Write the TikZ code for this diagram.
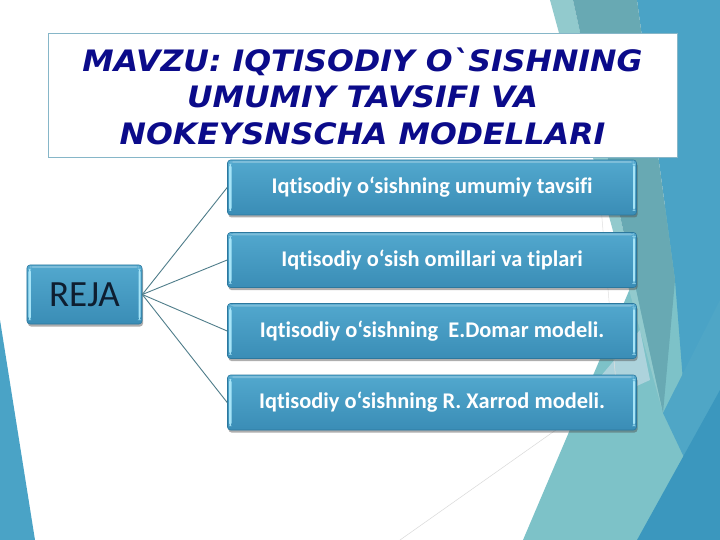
\documentclass[tikz,border=0pt]{standalone}
\usepackage{fontspec}
\usetikzlibrary{shadows}
\newfontfamily\titlefont[FakeStretch=1.07]{DejaVu Sans}
\newfontfamily\boxfont[Ligatures=NoCommon]{Carlito}
\definecolor{titleblue}{HTML}{0B0B8A}
\definecolor{bgblue}{HTML}{4AA3C6}
\definecolor{bgdark}{HTML}{3B97BE}
\definecolor{bgteal}{HTML}{7DC2C8}
\definecolor{bggrey}{HTML}{68A9B3}
\definecolor{bglight}{HTML}{92CACD}
\definecolor{bgpale}{HTML}{B9D8E2}
\definecolor{boxtop}{HTML}{52A8CE}
\definecolor{boxbot}{HTML}{3A8DB6}
\definecolor{boxedge}{HTML}{2C789E}
\definecolor{boxhl}{HTML}{A6E4F7}
\definecolor{linkcol}{HTML}{4F7D8A}
\definecolor{rejatext}{HTML}{0E1E30}
\definecolor{titleedge}{HTML}{86B6C8}
\tikzset{
  bevelbox/.style={rounded corners=3bp, top color=boxtop, bottom color=boxbot,
    draw=boxedge, line width=0.6bp,
    drop shadow={shadow xshift=1bp, shadow yshift=-2.5bp, opacity=0.45, fill=black!70},
    path picture={
      \fill[boxhl] ([xshift=1.5bp,yshift=-4bp]path picture bounding box.north west) rectangle ([xshift=4bp,yshift=4bp]path picture bounding box.south west);
      \fill[boxhl] ([xshift=-1.5bp,yshift=-4bp]path picture bounding box.north east) rectangle ([xshift=-3.5bp,yshift=4bp]path picture bounding box.south east);
      \fill[white, opacity=0.25] ([xshift=3bp,yshift=-1bp]path picture bounding box.north west) rectangle ([xshift=-3bp,yshift=-3bp]path picture bounding box.north east);
    }},
  itembox/.style={bevelbox, minimum width=409bp, minimum height=55bp, inner sep=0pt,
    font=\boxfont\bfseries\fontsize{22.4bp}{25bp}\selectfont, text=white},
  rejabox/.style={bevelbox, minimum width=115bp, minimum height=59bp, inner sep=0pt,
    font=\boxfont\fontsize{37bp}{40bp}\selectfont, text=rejatext},
  link/.style={draw=linkcol, line width=0.9bp},
  titlebox/.style={draw=titleedge, fill=white, line width=0.8bp,
    minimum width=629bp, minimum height=124bp, inner sep=0pt},
}
\begin{document}
\begin{tikzpicture}[x=1bp,y=-1bp]
\useasboundingbox (0,0) rectangle (720,540);
\fill[white] (0,0) rectangle (720,540);
% ---- background facets
\fill[bgblue] (0,320) -- (35,540) -- (0,540) -- cycle;
\fill[bgteal] (523,540) -- (720,77) -- (720,540) -- cycle;
\fill[bgblue] (637,0) -- (720,0) -- (720,400) -- (690,470) -- (675,280) -- cycle;
\fill[bglight] (550,0) -- (573,0) -- (663,413) -- (640,330) -- cycle;
\fill[bggrey] (573,0) -- (637,0) -- (675,280) -- (663,413) -- cycle;
\fill[bgpale, opacity=0.8] (555,430) -- (640,330) -- (650,380) -- (577,413) -- cycle;
\fill[bgblue!90!bgteal] (663,413) -- (690,470) -- (720,400) -- (720,300) -- cycle;
\fill[bgdark] (637,540) -- (720,390) -- (720,540) -- cycle;
\draw[black!15, line width=0.5bp] (400,540) -- (570,420);
\draw[black!12, line width=0.5bp] (597,160) -- (620,430);
% ---- title
\node[titlebox] (title) at (362.5,95) {};
\node[font=\titlefont\bfseries\itshape\fontsize{29.5bp}{36.5bp}\selectfont, text=titleblue, align=center, inner sep=0pt] (ttext) at (362.5,96)
  {MAVZU: IQTISODIY O`SISHNING\\UMUMIY TAVSIFI VA\\NOKEYSNSCHA MODELLARI};
% ---- nodes
\node[rejabox] (reja) at (84.5,294.5) {REJA};
\node[itembox] (b1) at (432,187.5) {Iqtisodiy o‘sishning umumiy tavsifi};
\node[itembox] (b2) at (432,260) {Iqtisodiy o‘sish omillari va tiplari};
\node[itembox] (b3) at (432,331) {Iqtisodiy o‘sishning \ E.Domar modeli.};
\node[itembox] (b4) at (432,402.5) {Iqtisodiy o‘sishning R. Xarrod modeli.};
% ---- links
\foreach \b in {b1,b2,b3,b4} \draw[link] (reja.east) -- (\b.west);
\end{tikzpicture}
\end{document}
